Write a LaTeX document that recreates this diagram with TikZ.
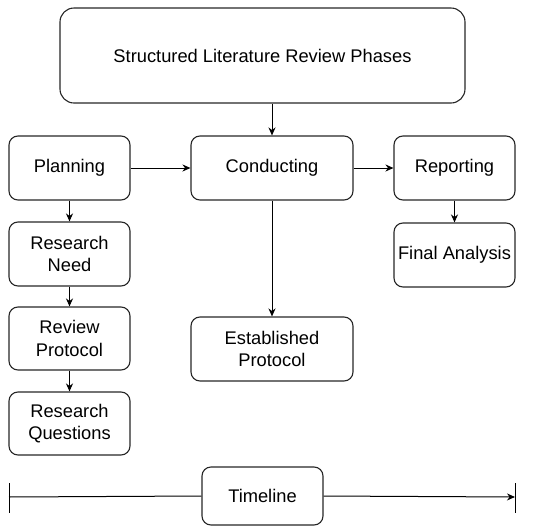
\documentclass[tikz,border=0pt]{standalone}
\usepackage{fontspec}
\setmainfont{Liberation Sans}
\usetikzlibrary{arrows.meta}
\begin{document}
\begin{tikzpicture}[x=1pt,y=1pt,
  box/.style={draw=black!85, line width=1.1pt, rounded corners=9pt, align=center,
    font=\fontsize{18.3}{22.5}\selectfont, inner sep=0pt},
  arr/.style={line width=1pt, -{Stealth[length=8pt,width=7pt]}},
  ln/.style={line width=1pt}]
\useasboundingbox (0,0) rectangle (550,-531);
\node[box, rounded corners=14pt, minimum width=405pt, minimum height=95pt] (title) at (262.5,-55.5) {Structured Literature Review Phases};
\node[box, minimum width=121pt, minimum height=64pt] (plan) at (69.5,-168) {Planning};
\node[box, minimum width=162pt, minimum height=64pt] (cond) at (272,-168) {Conducting};
\node[box, minimum width=121pt, minimum height=64pt] (rep) at (454.5,-168) {Reporting};
\node[box, minimum width=121pt, minimum height=64pt] (fin) at (454.5,-255) {Final Analysis};
\node[box, minimum width=121pt, minimum height=64pt] (need) at (69.5,-254) {Research\\Need};
\node[box, minimum width=121pt, minimum height=63pt] (prot) at (69.5,-338.5) {Review\\Protocol};
\node[box, minimum width=121pt, minimum height=63pt] (quest) at (69.5,-423.5) {Research\\Questions};
\node[box, minimum width=162pt, minimum height=64pt] (est) at (272,-349) {Established\\Protocol};
\node[box, minimum width=121pt, minimum height=58pt] (time) at (262.5,-496) {Timeline};
\coordinate (lt) at (9,-483);
\coordinate (lb) at (9,-513);
\coordinate (rt) at (515,-483);
\coordinate (rb) at (515,-513);
\coordinate (lm) at (9,-497);
\coordinate (rm) at (515,-497);
\draw[arr] (cond.north |- title.south) -- (cond.north);
\draw[arr] (plan) -- (cond);
\draw[arr] (cond) -- (rep);
\draw[arr] (plan) -- (need);
\draw[arr] (need) -- (prot);
\draw[arr] (prot) -- (quest);
\draw[arr] (rep) -- (fin);
\draw[arr] (cond) -- (est);
\draw[ln] (lt) -- (lb);
\draw[ln] (rt) -- (rb);
\draw[ln] (lm) -- (time.west);
\draw[arr] (time.east) -- (rm);
\end{tikzpicture}
\end{document}
